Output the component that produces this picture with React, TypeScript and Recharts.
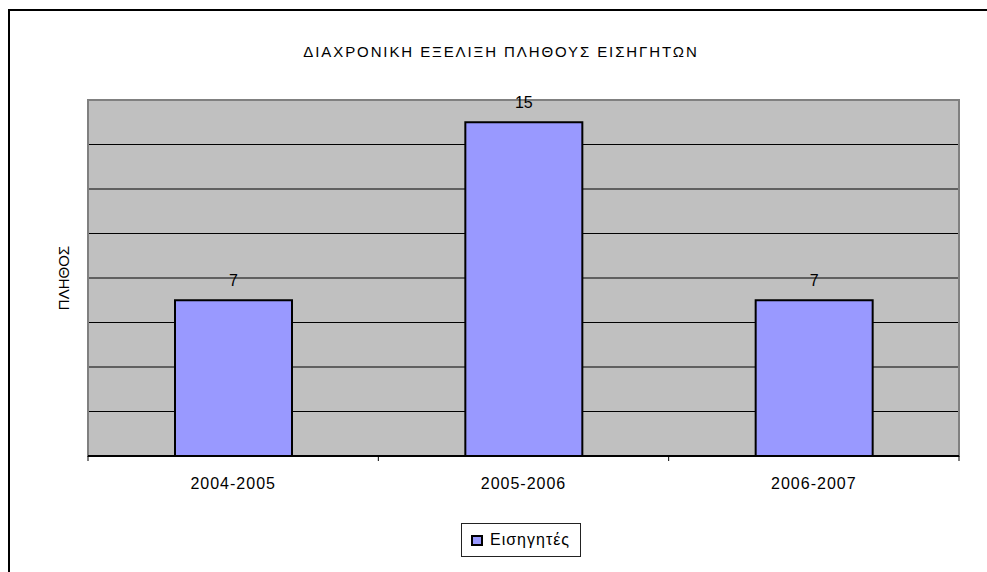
import React from 'react';
import { BarChart, Bar, XAxis, YAxis, CartesianGrid, Legend, LabelList, ReferenceArea } from 'recharts';

const years = ['2004-2005', '2005-2006', '2006-2007'];
const lecturers = [7, 15, 7];
const yTicks = [0, 2, 4, 6, 8, 10, 12, 14, 16];
const title = 'ΔΙΑΧΡΟΝΙΚΗ ΕΞΕΛΙΞΗ ΠΛΗΘΟΥΣ ΕΙΣΗΓΗΤΩΝ';
const yTitle = 'ΠΛΗΘΟΣ';
const seriesName = 'Εισηγητές';

const W = 987;
const H = 572;
const margin = { top: 100, right: 28, left: 40, bottom: 15 };
const yAxisWidth = 48;
const band = (W - margin.left - yAxisWidth - margin.right) / years.length;
const font = '"Liberation Sans", Arial, sans-serif';
const barFill = '#9999FF';

const data = years.map((year, i) => ({ year, value: lecturers[i] }));

function YearTick(props: any) {
  const { x, y, payload, index } = props;
  const left = x - band / 2;
  return (
    <g>
      <line x1={left} x2={left} y1={y} y2={y + 5} stroke="#000" strokeWidth={1} />
      {index === years.length - 1 && (
        <line x1={left + band} x2={left + band} y1={y} y2={y + 5} stroke="#000" strokeWidth={1} />
      )}
      <text x={x} y={y + 33} textAnchor="middle" fill="#000" fontSize={16} letterSpacing={1} fontFamily={font}>
        {payload.value}
      </text>
    </g>
  );
}

function LegendBox() {
  return (
    <div style={{ display: 'flex', justifyContent: 'flex-start', paddingLeft: 421 }}>
      <div
        style={{
          boxSizing: 'border-box',
          width: 120,
          height: 34,
          border: '1px solid #222',
          display: 'flex',
          alignItems: 'center',
          paddingLeft: 9,
          fontFamily: font,
          fontSize: 16,
          letterSpacing: 1,
          color: '#000',
        }}
      >
        <span
          style={{
            display: 'inline-block',
            boxSizing: 'border-box',
            width: 12,
            height: 11,
            background: barFill,
            border: '2px solid #000',
            marginRight: 7,
          }}
        />
        {seriesName}
      </div>
    </div>
  );
}

export default function App() {
  return (
    <div style={{ position: 'absolute', left: 0, top: 0, width: W, height: H, background: '#fff', fontFamily: font }}>
      <div
        style={{
          position: 'absolute',
          left: 8,
          top: 9,
          right: 0,
          bottom: 0,
          borderLeft: '2px solid #000',
          borderTop: '2px solid #000',
        }}
      />
      <div
        style={{
          position: 'absolute',
          left: 201,
          top: 43,
          width: 600,
          textAlign: 'center',
          fontSize: 15,
          lineHeight: '17px',
          letterSpacing: 1.9,
          color: '#000',
        }}
      >
        {title}
      </div>
      <div style={{ position: 'absolute', left: 0, top: 0 }}>
        <BarChart width={W} height={H} data={data} margin={margin}>
          <CartesianGrid vertical={false} fill="#C0C0C0" stroke="#000" strokeWidth={1} />
          <XAxis
            dataKey="year"
            height={67}
            axisLine={{ stroke: '#000', strokeWidth: 2 }}
            tickLine={false}
            tickSize={0}
            tickMargin={0}
            interval={0}
            tick={<YearTick />}
          />
          <YAxis
            domain={[0, 16]}
            ticks={yTicks}
            width={yAxisWidth}
            axisLine={false}
            tickLine={false}
            tick={{ fill: 'none' }}
            tickFormatter={() => ''}
            label={{
              value: yTitle,
              angle: -90,
              position: 'center',
              fill: '#000',
              fontSize: 15,
              fontFamily: font,
            }}
          />
          <ReferenceArea y1={0} y2={16} fill="none" stroke="#808080" strokeWidth={2} />
          <Legend verticalAlign="bottom" content={() => <LegendBox />} />
          <Bar dataKey="value" name={seriesName} fill={barFill} stroke="#000" strokeWidth={2} barSize={117} isAnimationActive={false}>
            <LabelList dataKey="value" position="top" offset={14} fill="#000" fontSize={16} fontFamily={font} />
          </Bar>
        </BarChart>
      </div>
    </div>
  );
}
